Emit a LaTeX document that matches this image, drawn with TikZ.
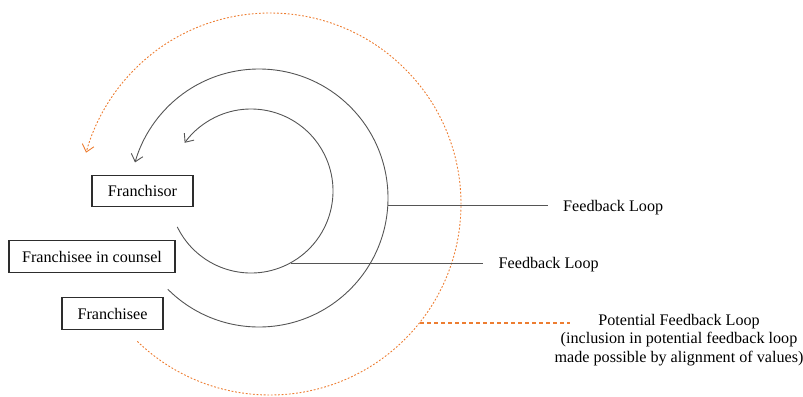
\documentclass[tikz,border=0pt]{standalone}
\usepackage{fontspec}
\setmainfont{Liberation Serif}
\usetikzlibrary{arrows.meta}
\definecolor{loopgray}{RGB}{85,85,85}
\definecolor{boxgray}{RGB}{45,45,45}
\definecolor{potorange}{RGB}{237,125,49}
\begin{document}
\begin{tikzpicture}[x=1bp,y=1bp,
  txt/.style={font=\fontsize{16.2}{18.5}\selectfont},
  box/.style={txt, draw=boxgray, line width=1.1bp, inner sep=0pt, minimum height=31.5bp},
  lbl/.style={txt, inner ysep=0pt, inner xsep=15.5bp, anchor=base west},
  loopline/.style={draw=loopgray, line width=0.9bp, -{Straight Barb[length=7bp,width=12bp,line width=0.9bp]}},
  ploopline/.style={draw=potorange, line width=0.9bp, dash pattern=on 1.8bp off 1.8bp, -{Straight Barb[length=7bp,width=12bp,line width=0.9bp]}},
  lead/.style={draw=loopgray, line width=0.8bp},
  plead/.style={draw=potorange, line width=1.1bp, dash pattern=on 4bp off 3bp}]
\useasboundingbox (0,0) rectangle (803,-396);

% centres of the loops
\coordinate (ci) at (251,-191);
\coordinate (co) at (259,-198);
\coordinate (cp) at (270,-204);

% boxes
\node[box, minimum width=101bp] (franchisor) at (142.5,-191) {Franchisor};
\node[box, minimum width=166bp] (counsel) at (92,-256.5) {Franchisee in counsel};
\node[box, minimum width=101bp] (franchisee) at (112.5,-313.5) {Franchisee};

% loops
\draw[loopline] ([shift={(ci)}]206:82) arc[start angle=206, end angle=504, radius=82];
\draw[loopline] ([shift={(co)}]225:129) arc[start angle=225, end angle=524, radius=129];
\draw[ploopline] ([shift={(cp)}]226:191) arc[start angle=226, end angle=524.4, radius=191];

% labels
\node[lbl] (fbouter) at (547.5,-211) {Feedback Loop};
\node[lbl] (fbinner) at (483,-268) {Feedback Loop};
\node[txt, align=center, inner sep=0pt] (potential) at (679,-340)
  {Potential Feedback Loop\\(inclusion in potential feedback loop\\made possible by alignment of values)};

% leaders
\coordinate (louter) at ([shift={(co)}]-3.1:129);
\coordinate (linner) at (291,-263);
\coordinate (lpot) at (420,-323);
\coordinate (lpotend) at (570,-323);
\draw[lead] (louter) -- (louter -| fbouter.west);
\draw[lead] (linner) -- (linner -| fbinner.west);
\draw[plead] (lpot) -- (lpotend);
\end{tikzpicture}
\end{document}
